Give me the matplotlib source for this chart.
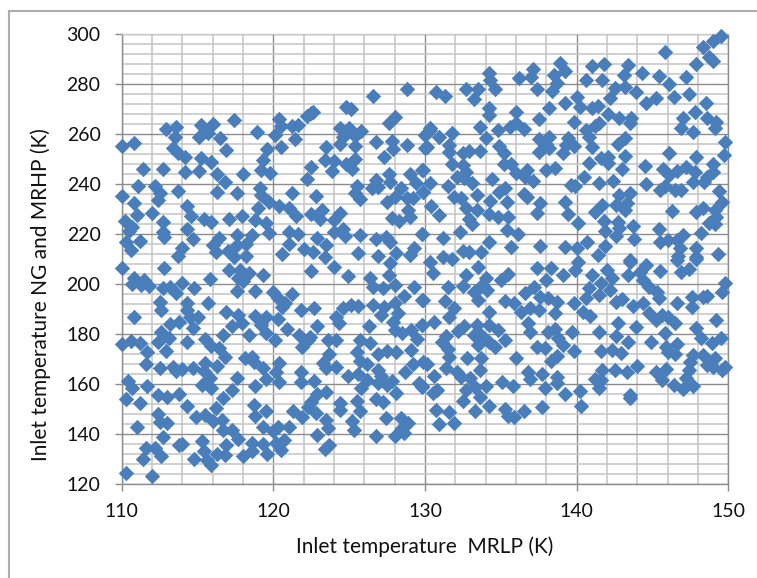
import matplotlib
matplotlib.use("Agg")
import matplotlib.pyplot as plt
from matplotlib.lines import Line2D
from matplotlib.ticker import MultipleLocator

x_label = "Inlet temperature  MRLP (K)"
y_label = "Inlet temperature NG and MRHP (K)"

upper_left = [
(110,255.3),(110.8,256.5),(111.4,246),(112.7,246.1),(111.1,239.2),(112.2,239.3),(110,235),(110.8,232.5),(112.5,236.3),(112.4,233.6),
(113.7,237.2),(112,228.3),(111,227.6),(110.2,225.2),(110.7,222.9),(110.5,221.3),(112.7,224.9),(112.7,220.9),(112.8,218.7),(114.3,221.9),
(114.7,217.9),(111.2,217.2),(110.3,216.7),(110.6,213.6),(114,214.3),(113.7,211.2),(112.9,261.9),(113.6,262.7),(113.5,258.9),(113.4,254.3),
(113.7,252.3),(114.2,250.9),(115.2,263.5),(116,264),(115.1,258.9),(115.7,260.3),(116.5,258.4),(116.9,253.7),(117.4,265.5),(115.2,250.3),
(115.9,248.7),(114.2,244.7),(115.1,245.3),(116.3,243.9),(116.8,240.8),(118,243.9),(116.3,236.7),(117.6,236.5),(118.9,260.7),(120.1,259.7),
(120.4,266),(120.5,263.2),(121.2,263.2),(121.6,263.5),(121.4,258),(120.5,254.9),(119.6,253.9),(119.3,249.6),(119.2,245.5),(119.8,244.3),
(119.1,238.3),(119.2,235.6),(119.7,232.9),(120.4,231.2),(121.2,236.4),(122.8,235.2),(122.5,246.7),(122.2,242.1),(122.5,268.3),(122.6,268.9),
(122.2,267.2),(124.8,270.9),(125.1,270),(126.6,275.1),(128.8,278.1),(128,266.9),(127.6,264.5),(124.4,262.3),(125,262.3),(125.8,261.3),
(124.6,258.9),(125.4,259.2),(124.4,256),(125.4,255.2),(123.5,254.8),(123.4,249.6),(124,249),(123.9,245.3),(124.8,247.9),(125.4,250),
(125.2,246),(126.8,256.7),(127.8,257.3),(127.9,253.9),(127.3,250.7),(128.8,255.5),(130,259.6),(130.1,254.7),(130.3,261.6),(129,244),
(129.8,245.6),(129.4,240.3),(129.9,236.9),(127.6,244),(127.7,240.7),(126.8,241.6),(126.5,238.3),(125.5,239.3),(125.4,236.3),(125.7,233.9),
(126.9,238.9),(128.4,238.3),(128,234.9),(127.5,232.9),(128.8,234.3),(129.2,234.3),(128.9,229.6),(129,226.9),(127.8,226.3),(128.3,225.2),
(124.4,228.3),(124,225.6),(123.2,229.6),(122.5,228),(123.1,226),(121,230.3),(121.5,227.2),(119,230.3),(118.8,225.6),(119.5,224.3),
(119.7,220.3),(117.9,227.2),(117.1,226.1),(115.9,224.9),(115.4,225.9),(114.6,227.2),(114.3,231),(121,220.7),(121.6,220),(121,216),
(122.9,218.5),(123.5,215.6),(122,214),(122.6,212.9),(120.6,211.9),(123.4,210.7),(124,220.9),(124.6,221.9),(124.7,219.2),(125.7,219.6),
(126.8,218),(127.4,218.9),(127.7,216.9),(125.6,212.3),(126.9,211.3),(128.1,212.3),(129.3,214.3),(129,211.6),(129.8,219.9),(116.4,218.3),
(116,215.6),(116.2,212.9),(117,213.2),(117.6,219.6),(117.6,215.6),(118.6,219.6),(118.2,216),(118.2,211.2),(117.4,210.7),
]

upper_right = [
(149.5,299.2),(149,297.3),(145.8,292.7),(148.3,294.7),(148.7,290.9),(149,289.3),(147.9,287.9),(147.2,282.8),(145.4,283.2),(146.1,280),
(147.4,276),(146.4,274.9),(148.5,272.3),(147.8,268.7),(147,266.5),(148.6,266.5),(149.2,264.7),(149.1,262.3),(146.9,262.3),(147.7,260.9),
(149.8,256.8),(149.7,251.6),(146.1,252.5),(147.9,250.9),(149,248),(144.5,247.3),(145.7,245.9),(146.1,243.7),(146.6,245.3),(147.2,246.9),
(147.8,244.9),(148.6,242.9),(149,244.7),(147.7,240.9),(148.4,240.7),(144.6,240),(145.5,237.7),(145.8,239.3),(146.5,237.7),(146.9,237.7),
(149.4,237.3),(149.6,232.9),(149.1,229.6),(148.3,230.3),(147.9,228.7),(146.3,229.2),(149.2,226.9),(148.7,224.3),(149.1,224.1),(148.2,220.3),
(147,219.6),(146.6,217.6),(145.4,221.9),(145.5,216.9),(146,217.6),(146.8,214.3),(147.9,214.3),(149.3,212),(146.7,211.2),(147.9,210.7),
(143.4,287.6),(143.1,283.6),(144.3,284.3),(141.8,288.1),(141,287.2),(140.6,281.5),(141.7,281.5),(142.5,278.3),(143.2,278.9),(143.9,276.7),
(142.2,274.3),(145.2,274.5),(144.6,272.3),(140,274.9),(140.2,270.9),(139.2,272.3),(141,270.3),(141.4,271.3),(138.2,270.3),(142.1,267.9),
(142.8,266.3),(143.6,266.3),(143.5,264.5),(141.5,264.3),(141.2,263.2),(139.8,264.8),(140.6,261.6),(140.8,258.9),(141,254.9),(143.2,258.5),
(142.7,255.8),(143.2,251.2),(141.6,250.3),(142.1,250.9),(142.1,248.2),(140.8,248.3),(143,246),(140.5,242.7),(141.5,240.3),(142.4,241.2),
(139.6,239.6),(139.9,239.3),(143.5,236.5),(142.8,235.6),(143.3,232.3),(142.6,231.6),(143.2,229.6),(141.7,231.6),(141.2,228.7),(139.2,232.7),
(139.4,228),(140.1,224.3),(141.8,225.2),(142.7,224.9),(143.7,223.3),(141.9,221.3),(142.8,222.3),(142.6,219),(143.8,218),(140.7,216.9),
(141.9,215.2),(140,214.3),(139.2,214.7),(141.4,211.6),(143.5,209.6),(138.9,288.5),(139.2,285.3),(138.5,283.6),(138.7,280.3),(138.4,277.2),
(137.1,285.9),(137,282.9),(136.2,282.5),(137.4,278),(134.2,284.3),(134.3,281.6),(134.6,278),(133.5,277.9),(132.7,278),(133.2,274),
(130.7,276.7),(131.3,275.2),(134.2,270.5),(134.2,267.6),(136,268.9),(137.5,266.1),(136,264.3),(135.6,262.7),(136.5,261.9),(133.6,262.7),
(134.8,261.6),(134,258.5),(130.3,262.3),(130,259.6),(130.9,258.7),(131.8,260.3),(130,254.5),(131.6,255.6),(131.6,252.9),(132.5,252.3),
(132.9,253.3),(133.6,253.3),(134.9,255.3),(135.2,252.5),(137.5,257.9),(138.2,258.9),(138,256),(137.5,252.7),(138.2,254.3),(139.1,252.3),
(139.4,258.3),(139.8,255.2),(139.3,255.6),(131.8,247.9),(132.5,247.6),(135.2,248),(135.7,248),(136,244.3),(136.7,245.6),(137.1,241.3),
(136.6,242.9),(138,245.6),(138.6,246.5),(134.4,241.9),(132.7,244.9),(132.1,242.9),(132.6,242.3),(130.3,240.5),(131.5,239.3),(133.1,240.3),
(129.9,245.6),(129.9,236.9),(133.4,235.6),(131.9,234.9),(132.4,234.3),(135.3,238.3),(134.9,236.7),(135.4,232.7),(134.3,233.3),(136.5,235.9),
(136.7,234.9),(137.6,232.5),(137.4,228.5),(130.4,231),(130.9,227.6),(132.7,230.5),(133.4,229.6),(132.9,226),(133.1,224),(134.2,228),
(134.8,226.9),(135.5,226.7),(135.4,221.6),(136.1,220),(132.3,220.9),(131.2,218.3),(129.8,219.9),(134.2,216.9),(135.7,214.9),(137.6,215.2),
(132.5,213.3),(132.9,212.9),(133.7,212.9),(131.2,210.7),(131.8,209.9),
]

lower_left = [
(110,206.5),(112.8,206.3),(110.8,202.5),(110.7,199.9),(111.3,199.6),(111.5,201.6),(111.8,199.3),(112.7,198.3),(113.2,198.9),(113.6,196.3),
(114,200.3),(114.8,198.3),(115.8,202),(117.1,205.6),(117.8,205.6),(117.7,202.5),(118.4,204.3),(118,201.2),(119.3,203.6),(117.6,197.3),
(118.8,197.3),(122.5,205.3),(124,206.9),(124.9,203.2),(126.4,202.3),(127.6,203.6),(127.7,208.3),(126.6,198.7),(127.2,198.3),(128,199.6),
(129.3,198.7),(129.8,193.6),(128.6,195.3),(128,192.3),(127.3,190.9),(126.6,191.6),(127.1,187.6),(128.2,188.3),(127.9,184.9),(126.3,183.3),
(128,181.6),(128.5,180.3),(129.1,181.6),(129.8,183.6),(129.5,177.9),(129.1,173.6),(128.1,172.7),(127.5,173.3),(126.9,171.9),(126.4,176.3),
(125.7,177.6),(125.5,172.7),(125.7,169.3),(126.2,167.9),(126.9,165.6),(127.1,163.3),(128.7,164.9),(129.2,168),(129.9,168.7),(129.6,160.3),
(129.8,158.7),(127.8,161),(128.1,156.3),(127.5,159.6),(126.9,160.3),(126.2,161.6),(125.6,163.9),(124.9,163.3),(125.8,158.3),(126.8,154),
(127.2,152.7),(125.5,153.3),(125.7,148.9),(124.4,152.3),(124.4,149.6),(123.5,156.7),(122.9,155.9),(122.5,152.9),(122.3,150.9),(122.8,148.3),
(125.2,144.9),(125.3,141.3),(123.5,145.6),(123.6,142.3),(122.9,139.6),(123.4,134),(123.7,135.3),(126.8,139.2),(127.4,146.3),(128.4,146.3),
(128.9,144.3),(128.5,142.3),(128,139.2),(128.6,140.3),(121.9,146.5),(121.3,148.9),(121,142.5),(120.3,142.7),(120,140.9),(119.3,142.5),
(119.5,149.2),(118.7,151.6),(118.8,147.2),(120.7,137.6),(120.2,136.3),(120.5,133.3),(119.6,132),(119.3,136),(118.6,136.3),(118.6,133.2),
(118,131.2),(117.7,137.9),(117.3,141.6),(116.9,135.6),(116.8,131.6),(116.3,131.9),(115.9,127.6),(115.6,129.6),(115.4,132.9),(115.3,136.9),
(114.8,130),(114,135.9),(113.8,135.6),(112.7,138.5),(112.2,134.3),(111.6,134.3),(112.6,130.9),(111.4,130),(110.3,124.3),(112,122.9),
(111,142.7),(112.4,147.9),(112.5,144.7),(113,144.3),(114.3,151.2),(114.9,146.7),(115.5,147.6),(116.2,150.5),(116,144.9),(116.6,145.6),
(116.7,141.6),(116.7,154.3),(117.3,157.6),(117.6,162.5),(118.8,159.3),(119.5,162),(120.2,164.7),(120.4,168.3),(120.4,160.9),(119.3,166.3),
(121.8,164.9),(121.8,160.7),(122.7,161.2),(123.5,166.5),(124.1,166.9),(123.7,171.9),(123.3,168.3),(115.9,158.3),(115.3,159.6),(115.8,162.3),
(115.5,168.3),(114.7,166.5),(114,166),(113.4,166.7),(113.6,165.2),(112.5,166.5),(115.4,165.2),(116.3,167.3),(113.8,155.9),(113,154.9),
(112.4,155.6),(111.7,159.2),(111.2,152.5),(110.3,154),(110.7,158.3),(110.4,161.2),(111.6,168),(111.7,172.9),(111.2,176.3),(110.6,177.3),
(110,175.9),(112.9,173.2),(114.3,176.7),(113.1,178.5),(112.4,176.7),(112.6,180.9),(114.7,182.5),(113.8,184.9),(113.2,183.9),(110.8,186.7),
(112.6,189.6),(112.5,192.9),(114.3,192.3),(114.3,189.6),(114.5,186.9),(115,186.9),(115.7,192.3),(116.9,188.9),(117.7,187.6),(117.3,183.3),
(117.9,184.3),(116.7,179.6),(118.4,179.6),(118.8,187.2),(119.5,186.9),(119.2,183.6),(119.5,180.3),(120.1,177.6),(120.3,185.9),(120.9,182),
(121.7,179.6),(122.9,183.3),(122.4,178.9),(121.9,174.9),(122.3,177.6),(121.8,189.6),(122.7,190.3),(120.6,190.7),(120.8,192.3),(120.3,194.3),
(120,196.7),(121.2,196),(124.1,186.9),(124.3,184.3),(124.6,190.3),(125.1,191.6),(125.6,191.3),(123.6,177.6),(124.1,177.6),(115.5,178),
(115.9,175.3),(116.4,174.3),(116.8,170.9),(118.1,170.5),(118.6,170.9),(118.7,168.9),
]

lower_right = [
(130.3,208.9),(130.5,204.3),(132.7,203.6),(133.5,206.7),(132.5,199.3),(131.5,198.7),(134,202.3),(133.2,196.9),(133.6,198.9),(134.1,197.6),
(133.5,193.6),(135,201.6),(135.5,204),(136.6,196.3),(135.3,193.3),(135.9,192.3),(136.3,188.9),(137.2,198.7),(137.4,206.3),(138.3,206.3),
(138,201.6),(139.1,203.6),(139.9,205.6),(140.1,208.9),(137.6,194.9),(138.1,194.3),(138.7,192.9),(136.9,190.3),(137.5,189.6),(138.6,188.3),
(139.8,192.5),(140.6,194.3),(140.4,188.9),(140.9,187.2),(141,203.6),(140.8,198.3),(141.5,195.6),(142,205.6),(142.3,202.3),(142.2,197.6),
(141.6,200.3),(142.6,192.9),(143,193.9),(143.5,208.9),(143.4,203.6),(144.2,204.9),(144.6,207.6),(144.4,201.6),(145.5,205.3),(144.8,198.7),
(145.3,196.9),(145.4,194.3),(143.7,191.3),(144.4,192.5),(144.8,188.3),(145.2,185.6),(145.6,187.6),(146,186.9),(146.5,184.5),(146.6,192.3),
(145.8,180.5),(147.6,194.9),(148.3,194.9),(147.6,190.9),(148.6,195.3),(146.6,209.6),(146.9,204.9),(147.4,206),(147.9,210),(149.8,200.5),
(149.6,196.9),(149.2,185.6),(147.9,182.3),(148.2,178.3),(148.9,176.3),(149.5,178.3),(144.9,176.9),(145.9,174.9),(146.6,175.9),(146.5,172),
(146,172.9),(143.9,182.7),(142.7,184.3),(142.6,179.3),(141.5,180.9),(143.4,176.9),(142.9,172.3),(142.3,173.6),(141.6,173.3),(139.7,180.9),
(138.1,180.9),(138.6,182),(138.8,178.3),(139.1,175.6),(139.8,173.3),(137.4,174.9),(137.9,174.3),(138.7,171.3),(138.3,169.3),(136.8,184.3),
(136.9,180.9),(136,170.5),(135.3,177.7),(134.8,181.6),(134.6,174.9),(134.2,176.9),(133.5,175.6),(134.2,188.9),(134.2,183.6),(133.4,183.6),
(132.6,183.3),(132.2,181.2),(133.2,179.6),(133.7,179.6),(131.4,179.2),(131.1,176.7),(131.5,174),(131.6,170.9),(132.8,170.3),(133.7,170.3),
(133.6,165.6),(131.9,190.3),(131.6,186.7),(130.6,184.7),(129.8,183.6),(131.3,193.3),(129.9,193.6),(130.1,168),(131.4,166.3),(132.1,164.9),
(132.4,162.9),(133,162.5),(130.6,163.2),(129.8,159.2),(130.8,157.6),(130.5,156.5),(132.7,157.6),(133.3,158.9),(134,159.3),(133.6,154.9),
(132.5,153.3),(134.2,151.3),(133.3,149.2),(130.7,149.6),(131.6,148.7),(130.9,143.9),(131.9,144.3),(135.1,160.7),(135.8,159.3),(135.3,150),
(135.5,146.9),(135.9,146.7),(136.5,148.9),(136.8,164.9),(136.9,162),(137.7,164),(137.9,158.3),(138.7,162.9),(138.7,160.3),(139.2,155.9),
(137.7,150.7),(140.2,157.2),(140.3,151.2),(141.2,161.9),(141.7,165.6),(141.6,161.6),(141.5,158.3),(142.5,165.6),(143.3,164.7),(144,167.2),
(143.5,155.6),(143.5,154.5),(145.2,164.7),(145.9,165.9),(145.6,161.6),(146.4,159.6),(147,157.9),(147.4,165.6),(147.2,162.3),(147.7,159.3),
(147.7,171.6),(147.5,168.9),(148.3,171.6),(148.6,167.6),(149.1,170.5),(149,166.9),(149.6,165.6),(149.8,166.9),
]

regions = [upper_left, upper_right, lower_left, lower_right]
xs = [p[0] for r in regions for p in r]
ys = [p[1] for r in regions for p in r]

W, H = 757, 578
INK = "#111111"
fig = plt.figure(figsize=(W / 100, H / 100), dpi=100, facecolor="white")
ax = fig.add_axes([121.7 / W, 1 - 483.7 / H, (728.3 - 121.7) / W, (483.7 - 34) / H])
ax.scatter(xs, ys, marker="D", s=62, color="#4A7EBB", linewidths=0, clip_on=False, zorder=3)
ax.set_xlim(110, 150)
ax.set_ylim(120, 300)
ax.xaxis.set_major_locator(MultipleLocator(10))
ax.yaxis.set_major_locator(MultipleLocator(20))
ax.xaxis.set_minor_locator(MultipleLocator(2))
ax.yaxis.set_minor_locator(MultipleLocator(4))
ax.grid(which="minor", color="#C8C8C8", lw=1.2)
ax.grid(which="major", color="#8C8C8C", lw=1.0)
ax.set_axisbelow(True)
for s in ax.spines.values():
    s.set_color("#8C8C8C")
    s.set_linewidth(1.0)
ax.spines["top"].set_color("#C8C8C8")
ax.tick_params(which="minor", length=0)
ax.tick_params(which="major", length=5.2, width=1, color="#8C8C8C", labelsize=14, labelcolor=INK)
ax.tick_params(axis="x", which="major", pad=9)
ax.tick_params(axis="y", which="major", pad=10)
for lab in ax.get_xticklabels() + ax.get_yticklabels():
    lab.set_family("Lato")
ax.set_xlabel(x_label, family="Lato", fontsize=15, color=INK, va="center")
ax.set_ylabel(y_label, family="Lato", fontsize=15, color=INK, va="center")
ax.xaxis.set_label_coords(0.5, (483.7 - 547) / (483.7 - 34))
ax.yaxis.set_label_coords((41 - 121.7) / (728.3 - 121.7), (483.7 - 295) / (483.7 - 34))

frame = {"color": "#ADADAD", "lw": 1.5, "transform": fig.transFigure}
fig.add_artist(Line2D([9 / W, 9 / W], [0, 1 - 11 / H], **frame))
fig.add_artist(Line2D([9 / W, 1], [1 - 11 / H, 1 - 11 / H], **frame))
fig.savefig("out.png", dpi=100)
